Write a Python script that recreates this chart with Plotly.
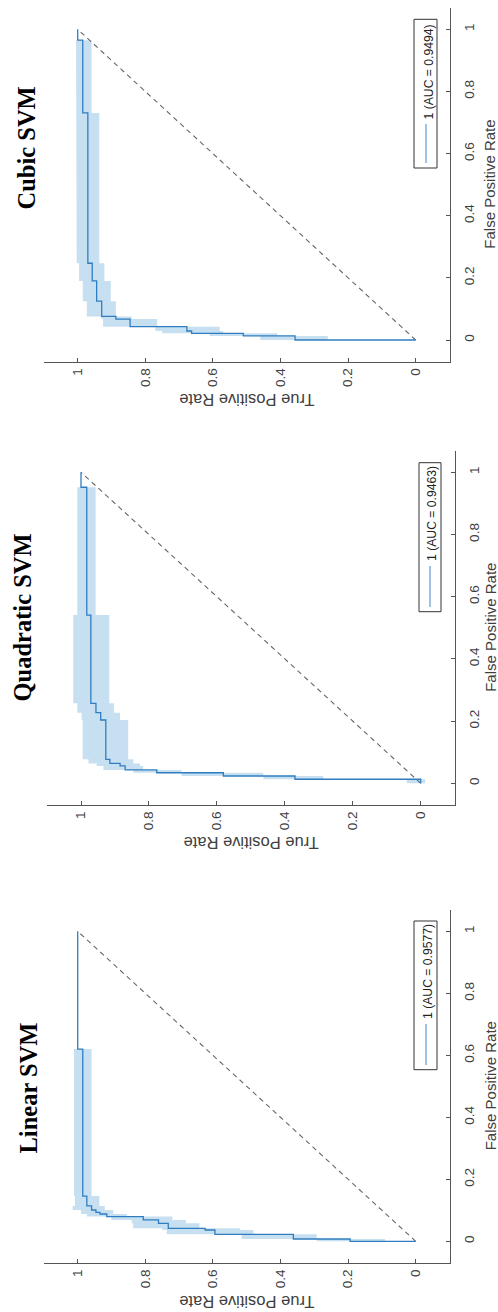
import numpy as np
import plotly.graph_objects as go

W, H = 498, 1312

# ---------------- data ----------------
models = ["Cubic SVM", "Quadratic SVM", "Linear SVM"]
auc = [0.9494, 0.9463, 0.9577]

cubic_fpr = [0, 0, 0.013, 0.0215, 0.029, 0.043, 0.0675, 0.076, 0.125, 0.19, 0.247, 0.731, 0.965, 1.0]
cubic_tpr = [0, 0.357, 0.51, 0.663, 0.677, 0.845, 0.887, 0.929, 0.944, 0.957, 0.970, 0.985, 1.0, 1.0]
cubic_band_fpr = [0, 0.013, 0.0215, 0.029, 0.043, 0.0675, 0.076, 0.125, 0.19, 0.247, 0.731, 0.965]
cubic_band_lo = [0.26, 0.41, 0.57, 0.58, 0.765, 0.84, 0.887, 0.902, 0.921, 0.936, 0.959]
cubic_band_hi = [0.46, 0.61, 0.75, 0.77, 0.925, 0.93, 0.973, 0.985, 0.996, 1.003, 1.005]

quad_fpr = [0, 0.013, 0.0235, 0.034, 0.043, 0.056, 0.064, 0.077, 0.2035, 0.227, 0.257, 0.541, 0.952, 1.0]
quad_tpr = [0, 0.37, 0.581, 0.777, 0.870, 0.885, 0.915, 0.927, 0.942, 0.956, 0.971, 0.983, 1.0, 1.0]
quad_band_fpr = [0, 0.013, 0.0235, 0.034, 0.043, 0.056, 0.064, 0.077, 0.2035, 0.227, 0.257, 0.541, 0.952]
quad_band_lo = [-0.013, 0.287, 0.463, 0.704, 0.817, 0.826, 0.846, 0.861, 0.885, 0.903, 0.917, 0.957]
quad_band_hi = [0.041, 0.463, 0.704, 0.846, 0.934, 0.954, 0.978, 0.995, 0.998, 1.011, 1.023, 1.011]

lin_fpr = [0, 0, 0.0075, 0.0224, 0.0365, 0.042, 0.058, 0.069, 0.0797, 0.0881, 0.093, 0.101, 0.114, 0.146, 0.62, 1.0]
lin_tpr = [0, 0.194, 0.362, 0.594, 0.623, 0.732, 0.761, 0.806, 0.914, 0.934, 0.946, 0.959, 0.973, 0.985, 1.0, 1.0]
lin_band_fpr = [0, 0.0075, 0.0224, 0.0365, 0.042, 0.058, 0.069, 0.0797, 0.0881, 0.101, 0.114, 0.146, 0.62]
lin_band_lo = [0.091, 0.293, 0.48, 0.52, 0.64, 0.68, 0.72, 0.855, 0.895, 0.92, 0.936, 0.959]
lin_band_hi = [0.293, 0.515, 0.737, 0.75, 0.836, 0.84, 0.90, 0.973, 0.99, 1.015, 1.008, 1.011]

tick_vals = [0, 0.2, 0.4, 0.6, 0.8, 1]
tick_text = ["0", "0.2", "0.4", "0.6", "0.8", "1"]

curves = [
    (cubic_fpr, cubic_tpr, cubic_band_fpr, cubic_band_lo, cubic_band_hi),
    (quad_fpr, quad_tpr, quad_band_fpr, quad_band_lo, quad_band_hi),
    (lin_fpr, lin_tpr, lin_band_fpr, lin_band_lo, lin_band_hi),
]

# ---------------- layout geometry (pixels) ----------------
geom = [
    dict(t0=415.7, t1=77.7, f0=340.0, f1=29.3, title=(26, 148.5), leg=(414, 437, 19.3, 168),
         legline=(426, 124, 163), legtext=(428, 72.5), fprlab=490, tprlab=400),
    dict(t0=420.7, t1=81.0, f0=783.3, f1=472.3, title=(22.5, 618), leg=(419, 441, 462.7, 611.7),
         legline=(430, 566, 607), legtext=(432, 514), fprlab=491, tprlab=843),
    dict(t0=415.7, t1=77.7, f0=1241.3, f1=931.3, title=(27.5, 1088), leg=(414, 437, 921, 1069.7),
         legline=(426, 1024, 1065), legtext=(428, 972), fprlab=490, tprlab=1302),
]
TPR_RANGE = [1.1, -0.1]
FPR_RANGE = [-0.07, 1.07]

LINE_BLUE = "#2f7dc0"
BAND = "rgba(0,114,189,0.22)"
AXIS = "#555555"
TXT = "#404040"
SANS = "Liberation Sans, Arial, sans-serif"
SERIF = "Liberation Serif, Times New Roman, serif"


def px(x):
    return x / W


def py(y):
    return 1 - y / H


fig = go.Figure()
annotations = []
shapes = []

for i, (g, (fpr, tpr, bf, blo, bhi)) in enumerate(zip(geom, curves)):
    k = "" if i == 0 else str(i + 1)
    xa, ya = "x" + k, "y" + k
    sx = g["t0"] - g["t1"]
    sy = g["f0"] - g["f1"]
    left = g["t1"] - 0.1 * sx
    right = g["t0"] + 0.1 * sx
    top = g["f1"] - 0.07 * sy
    bottom = g["f0"] + 0.07 * sy

    # confidence band polygon (stair-step)
    up_x, up_y, lo_x, lo_y = [], [], [], []
    for j in range(len(blo)):
        up_x += [bhi[j], bhi[j]]
        up_y += [bf[j], bf[j + 1]]
        lo_x += [blo[j], blo[j]]
        lo_y += [bf[j], bf[j + 1]]
    poly_x = up_x + lo_x[::-1] + [up_x[0]]
    poly_y = up_y + lo_y[::-1] + [up_y[0]]
    fig.add_trace(go.Scatter(x=poly_x, y=poly_y, fill="toself", fillcolor=BAND,
                             line=dict(width=0), mode="lines", hoverinfo="skip",
                             showlegend=False, xaxis=xa, yaxis=ya))
    # chance diagonal
    fig.add_trace(go.Scatter(x=[0, 1], y=[0, 1], mode="lines",
                             line=dict(color="#666666", width=1.1, dash="5px,4px"),
                             showlegend=False, xaxis=xa, yaxis=ya))
    # ROC curve
    fig.add_trace(go.Scatter(x=tpr, y=fpr, mode="lines", line_shape="vh",
                             line=dict(color=LINE_BLUE, width=1.3),
                             showlegend=False, xaxis=xa, yaxis=ya))

    axcommon = dict(showgrid=False, zeroline=False, showline=True, linecolor=AXIS, linewidth=1,
                    ticks="inside", ticklen=4, tickcolor=AXIS, tickwidth=1,
                    tickvals=tick_vals, ticktext=tick_text, tickangle=-90,
                    tickfont=dict(family=SANS, size=13.5, color=TXT))
    fig.update_layout(**{
        "xaxis" + k: dict(domain=[px(left), px(right)], range=TPR_RANGE, anchor=ya,
                          side="bottom", **axcommon),
        "yaxis" + k: dict(domain=[py(bottom), py(top)], range=FPR_RANGE, anchor=xa,
                          side="right", ticklabelstandoff=7, **axcommon),
    })

    # panel title
    annotations.append(dict(text="<b>%s</b>" % models[i], x=px(g["title"][0]), y=py(g["title"][1]),
                            xref="paper", yref="paper", showarrow=False, textangle=-90,
                            font=dict(family=SERIF, size=24.5, color="black"),
                            xanchor="center", yanchor="middle"))
    # axis titles
    annotations.append(dict(text="False Positive Rate", x=px(g["fprlab"]),
                            y=py(g["f0"] - 0.5 * sy), xref="paper", yref="paper",
                            showarrow=False, textangle=-90,
                            font=dict(family=SANS, size=15, color=TXT),
                            xanchor="center", yanchor="middle"))
    annotations.append(dict(text="True Positive Rate", x=px(g["t0"] - 0.5 * sx),
                            y=py(g["tprlab"]), xref="paper", yref="paper",
                            showarrow=False, textangle=180,
                            font=dict(family=SANS, size=16.5, color=TXT),
                            xanchor="center", yanchor="middle"))
    # legend box
    l0, l1, lt, lb = g["leg"]
    shapes.append(dict(type="rect", xref="paper", yref="paper", x0=px(l0), x1=px(l1),
                       y0=py(lb), y1=py(lt), line=dict(color="#333333", width=1),
                       fillcolor="white", layer="above"))
    lx, ly0, ly1 = g["legline"]
    shapes.append(dict(type="line", xref="paper", yref="paper", x0=px(lx), x1=px(lx),
                       y0=py(ly0), y1=py(ly1), line=dict(color="#5a9bd4", width=1.2),
                       layer="above"))
    annotations.append(dict(text="1 (AUC = %.4f)" % auc[i], x=px(g["legtext"][0]),
                            y=py(g["legtext"][1]), xref="paper", yref="paper",
                            showarrow=False, textangle=-90,
                            font=dict(family=SANS, size=12.2, color="#222222"),
                            xanchor="center", yanchor="middle"))

fig.update_layout(width=W, height=H, margin=dict(l=0, r=0, t=0, b=0),
                  paper_bgcolor="white", plot_bgcolor="white", showlegend=False,
                  annotations=annotations, shapes=shapes)

fig.write_html("out.html", config={"displayModeBar": False},
               post_script="document.body.style.margin='0';document.body.style.overflow='hidden';")
